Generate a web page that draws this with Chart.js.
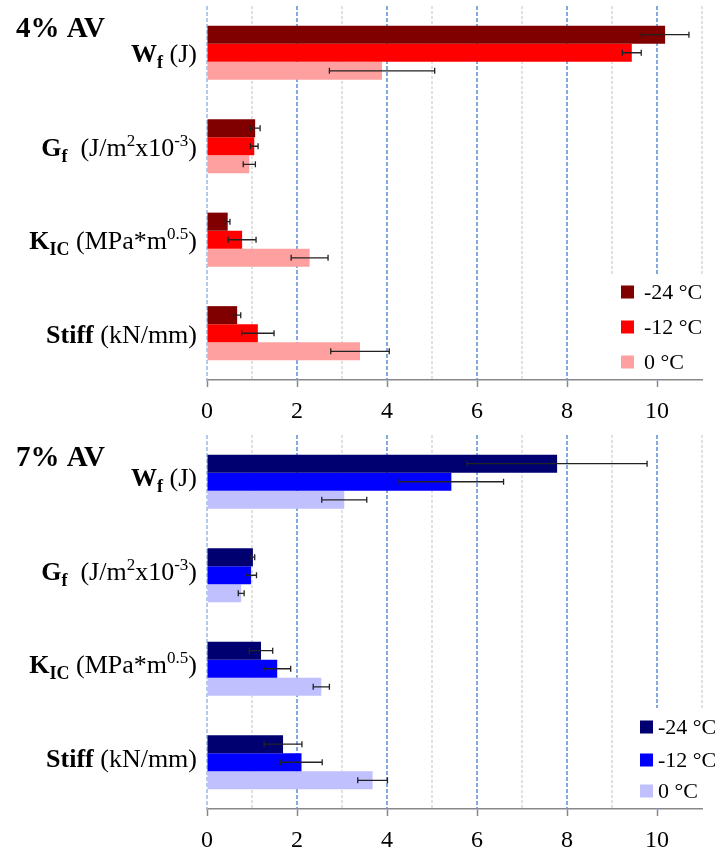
<!DOCTYPE html>
<html>
<head>
<meta charset="utf-8">
<script src="https://cdn.jsdelivr.net/npm/chart.js@4"></script>
<style>
  html, body { margin: 0; padding: 0; background: #fff; }
  .panel { position: absolute; left: 0; width: 717px; }
  #top { top: 0; height: 427px; }
  #bottom { top: 427px; height: 425px; }
</style>
</head>
<body>
<div class="panel" id="top"><canvas id="chart4"></canvas></div>
<div class="panel" id="bottom"><canvas id="chart7"></canvas></div>
<script>
const categories = ['Wf', 'Gf', 'KIC', 'Stiff']
const temperatures = ['-24 °C', '-12 °C', '0 °C']
const xMax = 11

// 4% air voids: means and error half-widths
const av4Minus24 = [10.18, 1.07, 0.46, 0.67]
const av4Minus24Err = [0.53, 0.11, 0.05, 0.08]
const av4Minus12 = [9.44, 1.05, 0.78, 1.13]
const av4Minus12Err = [0.21, 0.085, 0.31, 0.36]
const av4Zero = [3.89, 0.94, 2.28, 3.4]
const av4ZeroErr = [1.17, 0.135, 0.41, 0.65]

// 7% air voids
const av7Minus24 = [7.78, 1.02, 1.2, 1.69]
const av7Minus24Err = [2.0, 0.04, 0.26, 0.42]
const av7Minus12 = [5.43, 0.98, 1.56, 2.1]
const av7Minus12Err = [1.16, 0.12, 0.3, 0.46]
const av7Zero = [3.05, 0.76, 2.54, 3.68]
const av7ZeroErr = [0.5, 0.065, 0.18, 0.33]

const serif = '"Liberation Serif", "Times New Roman", serif'

// rich text for the category labels (subscripts / superscripts)
const labelParts = {
  Wf: [{ t: 'W', b: true }, { t: 'f', b: true, sub: true }, { t: ' (J)' }],
  Gf: [{ t: 'G', b: true }, { t: 'f', b: true, sub: true }, { t: '  (J/m' }, { t: '2', sup: true }, { t: 'x10' }, { t: '-3', sup: true }, { t: ')' }],
  KIC: [{ t: 'K', b: true }, { t: 'IC', b: true, sub: true }, { t: ' (MPa*m' }, { t: '0.5', sup: true }, { t: ')' }],
  Stiff: [{ t: 'Stiff', b: true }, { t: ' (kN/mm)' }]
}

function partFont(p) {
  const size = p.sub ? 18 : p.sup ? 17 : 26
  return `${p.b ? 'bold ' : ''}${size}px ${serif}`
}

function drawRichLabel(ctx, parts, xRight, yBase) {
  const widths = parts.map(p => {
    ctx.font = partFont(p)
    return ctx.measureText(p.t).width
  })
  let x = xRight - widths.reduce((a, b) => a + b, 0)
  parts.forEach((p, i) => {
    ctx.font = partFont(p)
    const dy = p.sub ? 6 : p.sup ? -10 : 0
    ctx.fillText(p.t, x, yBase + dy)
    x += widths[i]
  })
}

// dashed vertical grid: blue on even values, grey on odd ones
const gridLines = {
  id: 'gridLines',
  beforeDatasetsDraw(chart) {
    const { ctx, chartArea: { top, bottom }, scales: { x } } = chart
    ctx.save()
    for (let v = 0; v <= xMax; v++) {
      const px = Math.round(x.getPixelForValue(v))
      const even = v % 2 === 0
      ctx.lineWidth = even ? 1.6 : 1.5
      ctx.setLineDash(even ? [4, 2] : [3, 2])
      ctx.strokeStyle = v === 0 ? 'rgb(160,190,230)' : even ? 'rgb(100,148,215)' : 'rgb(215,215,215)'
      ctx.beginPath()
      ctx.moveTo(px, top)
      ctx.lineTo(px, bottom)
      ctx.stroke()
    }
    ctx.restore()
  }
}

const errorBars = {
  id: 'errorBars',
  afterDatasetsDraw(chart) {
    const { ctx, scales: { x } } = chart
    ctx.save()
    ctx.strokeStyle = '#222'
    ctx.lineWidth = 1.3
    chart.data.datasets.forEach((ds, i) => {
      chart.getDatasetMeta(i).data.forEach((bar, j) => {
        const x1 = x.getPixelForValue(ds.data[j] - ds.errors[j])
        const x2 = x.getPixelForValue(ds.data[j] + ds.errors[j])
        const y = bar.y
        ctx.beginPath()
        ctx.moveTo(x1, y); ctx.lineTo(x2, y)
        ctx.moveTo(x1, y - 3); ctx.lineTo(x1, y + 3)
        ctx.moveTo(x2, y - 3); ctx.lineTo(x2, y + 3)
        ctx.stroke()
      })
    })
    ctx.restore()
  }
}

const sideText = {
  id: 'sideText',
  afterDraw(chart, args, opts) {
    const { ctx, chartArea, scales: { y } } = chart
    ctx.save()
    ctx.fillStyle = '#000'
    ctx.textBaseline = 'alphabetic'
    ctx.textAlign = 'left'
    ctx.font = `bold 29px ${serif}`
    ctx.fillText(opts.title, 16, opts.titleBase)
    categories.forEach((c, i) => {
      drawRichLabel(ctx, labelParts[c], 197, y.getPixelForValue(i) + opts.labelShift)
    })

    // legend with white box over the grid
    const lg = opts.legend
    ctx.fillStyle = '#fff'
    ctx.fillRect(chartArea.right - lg.boxWidth, chartArea.bottom - lg.boxHeight, lg.boxWidth + 2, lg.boxHeight - 1)
    ctx.font = `22px ${serif}`
    ctx.textBaseline = 'middle'
    chart.data.datasets.forEach((ds, i) => {
      const cy = chartArea.bottom + lg.rows[i]
      ctx.fillStyle = ds.backgroundColor
      ctx.fillRect(chartArea.right - lg.squareX, cy - 6.5, 13, 13)
      ctx.fillStyle = '#000'
      ctx.fillText(ds.label, chartArea.right - lg.textX, cy + 1)
    })
    ctx.restore()
  }
}

function makeDatasets(colors, values, errors) {
  return temperatures.map((t, i) => ({
    label: t,
    data: values[i],
    errors: errors[i],
    backgroundColor: colors[i],
    barPercentage: 1,
    categoryPercentage: 0.58
  }))
}

function makeChart(id, datasets, axisHeight, padTop, side) {
  return new Chart(document.getElementById(id), {
    type: 'bar',
    data: { labels: categories, datasets },
    options: {
      indexAxis: 'y',
      responsive: true,
      maintainAspectRatio: false,
      animation: false,
      layout: { padding: { left: 207, right: 15, top: padTop, bottom: 0 } },
      plugins: {
        legend: { display: false },
        tooltip: { enabled: false },
        sideText: side
      },
      scales: {
        y: { display: false },
        x: {
          min: 0,
          max: xMax,
          afterFit: s => { s.height = axisHeight },
          ticks: {
            stepSize: 2,
            includeBounds: false,
            autoSkip: false,
            maxRotation: 0,
            padding: 10,
            color: '#000',
            font: { family: serif, size: 24 }
          },
          grid: {
            drawOnChartArea: false,
            tickColor: '#888',
            tickLength: 7,
            tickWidth: 1.5
          },
          border: { color: '#888', width: 1.5 }
        }
      }
    },
    plugins: [gridLines, errorBars, sideText]
  })
}

makeChart('chart4',
  makeDatasets(['#800000', '#ff0000', '#ffa0a0'],
    [av4Minus24, av4Minus12, av4Zero], [av4Minus24Err, av4Minus12Err, av4ZeroErr]),
  47, 6,
  { title: '4% AV', titleBase: 37, labelShift: 9.5,
    legend: { boxWidth: 112, boxHeight: 106, squareX: 81, textX: 58, rows: [-88, -53, -18] } })

makeChart('chart7',
  makeDatasets(['#000070', '#0000ff', '#c0c0ff'],
    [av7Minus24, av7Minus12, av7Zero], [av7Minus24Err, av7Minus12Err, av7ZeroErr]),
  43, 8,
  { title: '7% AV', titleBase: 39, labelShift: 4.5,
    legend: { boxWidth: 77, boxHeight: 101, squareX: 62, textX: 44, rows: [-82, -49, -18] } })
</script>
</body>
</html>
